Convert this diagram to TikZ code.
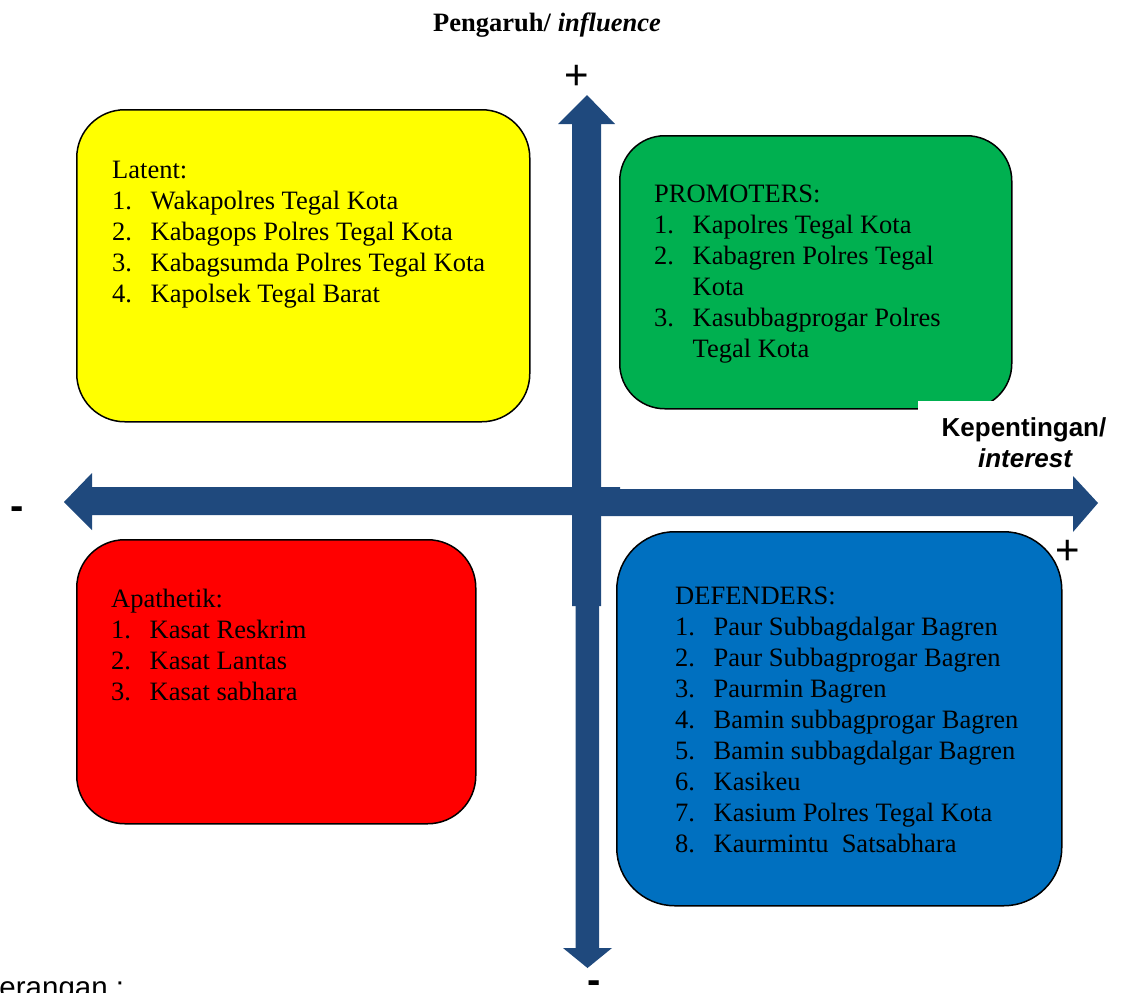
\documentclass[tikz,border=0pt]{standalone}
\usepackage{fontspec}
\setmainfont{Liberation Serif}
\newfontfamily\arialfont{Liberation Sans}
\definecolor{axisblue}{RGB}{31,73,125}
\definecolor{boxyellow}{RGB}{255,255,0}
\definecolor{boxgreen}{RGB}{0,176,80}
\definecolor{boxred}{RGB}{255,0,0}
\definecolor{boxblue}{RGB}{0,112,192}
\newcommand\itm[2]{\makebox[38.5pt][l]{#1}#2}
\newcommand\cont[1]{\hspace*{38.5pt}#1}
\begin{document}
\begin{tikzpicture}[x=1pt,y=-1pt,
  quadbox/.style={draw=black, line width=1.5pt, rounded corners=48pt, anchor=north west, inner sep=0pt},
  listtext/.style={anchor=base west, inner sep=0pt, font=\fontsize{26.5}{31}\selectfont},
  arrowshape/.style={fill=axisblue, draw=none},
  signtext/.style={inner sep=0pt, font=\arialfont\fontsize{42}{42}\selectfont}
]
\useasboundingbox (0,0) rectangle (1122,993);

% axes
\fill[arrowshape] (620,487) -- (92,487) -- (92,473) -- (64,502) -- (92,530) -- (92,515) -- (620,515) -- cycle;
\fill[arrowshape] (580,489) -- (1073,489) -- (1073,476) -- (1098,503) -- (1073,532) -- (1073,516) -- (580,516) -- cycle;
\fill[arrowshape] (575.5,500) -- (575.5,948) -- (563,948) -- (587.5,968) -- (612,948) -- (599,948) -- (599,500) -- cycle;
\fill[arrowshape] (572,606) -- (572,124) -- (558,124) -- (587,95) -- (615,124) -- (601,124) -- (601,606) -- cycle;

% boxes
\node[quadbox, fill=boxyellow, minimum width=453pt, minimum height=312pt] (latent) at (76,109) {};
\node[quadbox, fill=boxgreen, minimum width=392pt, minimum height=273pt, rounded corners=45pt] (promoters) at (619,135) {};
\node[quadbox, fill=boxred, minimum width=399pt, minimum height=284pt] (apathetic) at (76,539) {};
\node[quadbox, fill=boxblue, minimum width=445pt, minimum height=374pt, rounded corners=58pt] (defenders) at (616,531) {};
\fill[white] (918,401) rectangle (1000,414);

% box texts
\node[listtext] (latentText) at (112,178) {\begin{tabular}[t]{@{}l@{}}
Latent:\\
\itm{1.}{Wakapolres Tegal Kota}\\
\itm{2.}{Kabagops Polres Tegal Kota}\\
\itm{3.}{Kabagsumda Polres Tegal Kota}\\
\itm{4.}{Kapolsek Tegal Barat}
\end{tabular}};
\node[listtext] (promotersText) at (654,202) {\begin{tabular}[t]{@{}l@{}}
PROMOTERS:\\
\itm{1.}{Kapolres Tegal Kota}\\
\itm{2.}{Kabagren Polres Tegal}\\
\cont{Kota}\\
\itm{3.}{Kasubbagprogar Polres}\\
\cont{Tegal Kota}
\end{tabular}};
\node[listtext] (apatheticText) at (111,607) {\begin{tabular}[t]{@{}l@{}}
Apathetik:\\
\itm{1.}{Kasat Reskrim}\\
\itm{2.}{Kasat Lantas}\\
\itm{3.}{Kasat sabhara}
\end{tabular}};
\node[listtext] (defendersText) at (675,604) {\begin{tabular}[t]{@{}l@{}}
DEFENDERS:\\
\itm{1.}{Paur Subbagdalgar Bagren}\\
\itm{2.}{Paur Subbagprogar Bagren}\\
\itm{3.}{Paurmin Bagren}\\
\itm{4.}{Bamin subbagprogar Bagren}\\
\itm{5.}{Bamin subbagdalgar Bagren}\\
\itm{6.}{Kasikeu}\\
\itm{7.}{Kasium Polres Tegal Kota}\\
\itm{8.}{Kaurmintu\ \ Satsabhara}
\end{tabular}};

% axis labels
\node[anchor=base, inner sep=0pt, font=\fontsize{26.5}{30}\selectfont] (yTitle) at (547,31) {\textbf{Pengaruh/} \textbf{\textit{influence}}};
\node[anchor=base, inner sep=0pt, font=\arialfont\bfseries\fontsize{26}{30}\selectfont] (xTitle1) at (1024,436) {Kepentingan/};
\node[anchor=base, inner sep=0pt, font=\arialfont\bfseries\itshape\fontsize{26}{30}\selectfont] (xTitle2) at (1025,467) {interest};

% signs
\node[signtext] (plusTop) at (577,77) {+};
\node[signtext] (plusRight) at (1068,552) {+};
\node[signtext, font=\arialfont\bfseries\fontsize{40}{40}\selectfont] (minusLeft) at (17,513) {-};
\node[signtext, font=\arialfont\bfseries\fontsize{40}{40}\selectfont] (minusBottom) at (594,987) {-};

% legend (cut off at the page edge, as in the reference)
\node[anchor=base west, inner sep=0pt, font=\arialfont\fontsize{29.5}{32}\selectfont] (legend) at (-45,997) {Keterangan :};
\end{tikzpicture}
\end{document}
